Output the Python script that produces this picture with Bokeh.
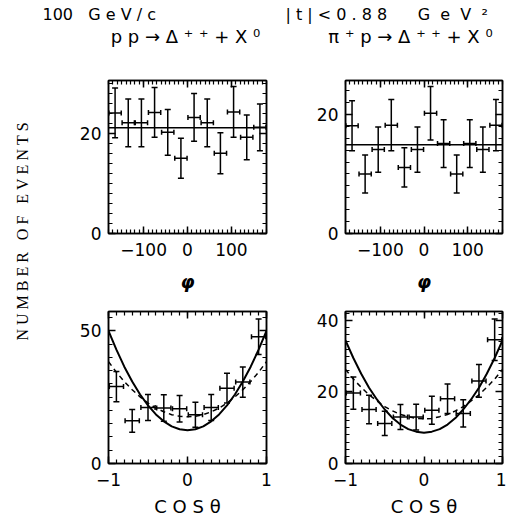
import math
from bokeh.plotting import figure
from bokeh.models import (Range1d, LinearAxis, FixedTicker, Whisker, TeeHead,
                          ColumnDataSource, Span, Label, CustomJSTickFormatter)
from bokeh.layouts import row, column
from bokeh.embed import file_html
from bokeh.resources import INLINE

# ---------------- data ----------------
phi_centers = [-165, -135, -105, -75, -45, -15, 15, 45, 75, 105, 135, 165]
phi_halfwidth = 14
pp_phi_counts = [24.2, 22.2, 22.2, 24.3, 20.3, 15.1, 23.3, 22.2, 16.1, 24.4, 19.3, 21.3]
pp_phi_err = [5.0, 4.8, 4.8, 5.0, 4.6, 4.0, 4.8, 4.8, 4.1, 5.1, 4.5, 4.7]
pp_phi_fit = 21.2
pip_phi_counts = [18.1, 10.0, 14.1, 18.2, 11.1, 14.1, 20.2, 15.1, 10.0, 15.1, 14.1, 18.2]
pip_phi_err = [4.2, 3.2, 3.8, 4.3, 3.3, 3.8, 4.5, 4.0, 3.2, 4.0, 3.8, 4.3]
pip_phi_fit = 14.9

cos_centers = [-0.9, -0.7, -0.5, -0.3, -0.1, 0.1, 0.3, 0.5, 0.7, 0.9]
cos_halfwidth = 0.09
pp_cos_counts = [29.0, 16.1, 21.1, 20.9, 20.6, 18.4, 21.1, 28.4, 30.7, 47.8]
pp_cos_err = [5.7, 4.3, 4.9, 5.0, 5.0, 4.7, 4.9, 5.6, 5.7, 6.7]
pip_cos_counts = [19.7, 15.1, 11.2, 13.0, 13.0, 14.9, 18.1, 14.0, 23.1, 34.6]
pip_cos_err = [4.5, 4.0, 3.4, 3.5, 3.6, 3.9, 4.1, 3.8, 4.6, 5.8]

cos_grid = [-1.0, -0.9, -0.8, -0.7, -0.6, -0.5, -0.4, -0.3, -0.2, -0.1, 0.0,
            0.1, 0.2, 0.3, 0.4, 0.5, 0.6, 0.7, 0.8, 0.9, 1.0]
pp_cos_solid = [50.0, 42.9, 36.5, 30.9, 26.0, 21.9, 18.5, 15.9, 14.0, 12.9, 12.5,
                12.9, 14.0, 15.9, 18.5, 21.9, 26.0, 30.9, 36.5, 42.9, 50.0]
pp_cos_dashed = [38.4, 34.4, 30.9, 27.8, 25.1, 22.8, 20.9, 19.5, 18.4, 17.8, 17.6,
                 17.8, 18.4, 19.5, 20.9, 22.8, 25.1, 27.8, 30.9, 34.4, 38.4]
pip_cos_solid = [34.4, 29.5, 25.1, 21.2, 17.9, 15.1, 12.7, 10.9, 9.6, 8.9, 8.6,
                 8.9, 9.6, 10.9, 12.7, 15.1, 17.9, 21.2, 25.1, 29.5, 34.4]
pip_cos_dashed = [26.3, 23.6, 21.3, 19.2, 17.5, 15.9, 14.7, 13.7, 13.1, 12.6, 12.5,
                  12.6, 13.1, 13.7, 14.7, 15.9, 17.5, 19.2, 21.3, 23.6, 26.3]

phi_ticks = [-100, 0, 100]
phi_minor = list(range(-180, 181, 10))
cos_ticks = [-1, 0, 1]
cos_minor = [-1.0, -0.9, -0.8, -0.7, -0.6, -0.5, -0.4, -0.3, -0.2, -0.1, 0.0,
             0.1, 0.2, 0.3, 0.4, 0.5, 0.6, 0.7, 0.8, 0.9, 1.0]

NB = "\u00a0"  # non-breaking space keeps the wide letter spacing in SVG text
header_left = "100   G e V / c".replace(" ", NB)
header_right = "| t | < 0 . 8 8      G  e  V  ²".replace(" ", NB)
reaction_pp = "p p → Δ ⁺ ⁺ + X ⁰".replace(" ", NB)
reaction_pip = "π ⁺ p → Δ ⁺ ⁺ + X ⁰".replace(" ", NB)
phi_label = "φ"
cos_label = "C O S θ".replace(" ", NB)
y_label = "N U M B E R   O F   E V E N T S".replace(" ", NB)

TICK_FONT = "DejaVu Sans"
BLACK = "black"


def style_axis(ax, ticker, labels=True, overrides=None, standoff=8):
    ax.ticker = ticker
    ax.axis_line_color = BLACK
    ax.axis_line_width = 1.5
    ax.major_tick_line_color = BLACK
    ax.major_tick_line_width = 1.5
    ax.minor_tick_line_color = BLACK
    ax.minor_tick_line_width = 1.2
    ax.major_tick_in = 7
    ax.major_tick_out = 0
    ax.minor_tick_in = 4
    ax.minor_tick_out = 0
    if labels:
        ax.major_label_text_font = TICK_FONT
        ax.major_label_text_font_size = "17px"
        ax.major_label_text_color = BLACK
        ax.major_label_standoff = standoff
        if overrides:
            ax.major_label_overrides = overrides
    else:
        ax.formatter = CustomJSTickFormatter(code="return ''")
        ax.major_label_text_font_size = "0px"
        ax.major_label_standoff = 0


def make_panel(xr, yr, fw, fh, borders, xt, xm, yt, ym, xover, xlabel, xlabel_style, xlabel_standoff):
    bl, br, bt, bb = borders
    p = figure(frame_width=fw, frame_height=fh,
               x_range=Range1d(*xr), y_range=Range1d(*yr),
               min_border_left=bl, min_border_right=br,
               min_border_top=bt, min_border_bottom=bb,
               output_backend="svg", toolbar_location=None)
    p.grid.visible = False
    p.outline_line_color = BLACK
    p.outline_line_width = 1.5
    p.background_fill_color = "white"
    p.border_fill_color = "white"
    style_axis(p.xaxis[0], FixedTicker(ticks=xt, minor_ticks=xm), True, xover, 9)
    p.xaxis[0].axis_label = xlabel
    p.xaxis[0].axis_label_text_font = "DejaVu Sans"
    p.xaxis[0].axis_label_text_font_size = "18px"
    p.xaxis[0].axis_label_text_font_style = xlabel_style
    p.xaxis[0].axis_label_text_color = BLACK
    p.xaxis[0].axis_label_standoff = xlabel_standoff
    style_axis(p.yaxis[0], FixedTicker(ticks=yt, minor_ticks=ym), True, None, 7)
    top = LinearAxis()
    style_axis(top, FixedTicker(ticks=xt, minor_ticks=xm), False)
    p.add_layout(top, "above")
    right = LinearAxis()
    style_axis(right, FixedTicker(ticks=yt, minor_ticks=ym), False)
    p.add_layout(right, "right")
    return p


def add_points(p, xs, ys, errs, hw):
    src = ColumnDataSource(dict(
        x=xs, y=ys,
        lo=[y - e for y, e in zip(ys, errs)],
        hi=[y + e for y, e in zip(ys, errs)],
        l=[x - hw for x in xs],
        r=[x + hw for x in xs],
    ))
    p.add_layout(Whisker(source=src, base="x", lower="lo", upper="hi", dimension="height",
                         line_color=BLACK, line_width=1.5,
                         lower_head=TeeHead(size=6, line_width=1.5, line_color=BLACK),
                         upper_head=TeeHead(size=6, line_width=1.5, line_color=BLACK)))
    p.add_layout(Whisker(source=src, base="y", lower="l", upper="r", dimension="width",
                         line_color=BLACK, line_width=1.5,
                         lower_head=TeeHead(size=5, line_width=1.5, line_color=BLACK),
                         upper_head=TeeHead(size=5, line_width=1.5, line_color=BLACK)))


def label(p, x, y, text, size, font="DejaVu Sans", align="center", style="normal", angle=0):
    p.add_layout(Label(x=x, y=y, x_units="screen", y_units="screen", text=text,
                       text_font=font, text_font_size=size, text_align=align,
                       text_baseline="middle", text_color=BLACK, text_font_style=style,
                       angle=angle))


def strip(w, h):
    s = figure(width=w, height=h, x_range=Range1d(0, 1), y_range=Range1d(0, 1),
               x_axis_type=None, y_axis_type=None, min_border=0,
               output_backend="svg", toolbar_location=None)
    s.outline_line_color = None
    s.grid.visible = False
    return s


phi_over = {-100: "−100"}
cos_over = {-1: "−1"}

# header strip (page y 0..48, x 40..506)
header = strip(466, 48)
label(header, 2, 34, header_left, "16px", align="left")
label(header, 145, 12, reaction_pp, "18px")
label(header, 245, 34, header_right, "16px", align="left")
label(header, 370, 12, reaction_pip, "18px")

# top-left
tl = make_panel((-180, 180), (0, 30.7), 158, 153, (68, 14, 32, 63),
                phi_ticks, phi_minor, [0, 20], list(range(0, 31, 2)), phi_over,
                phi_label, "bold italic", 12)
add_points(tl, phi_centers, pp_phi_counts, pp_phi_err, phi_halfwidth)
tl.add_layout(Span(location=pp_phi_fit, dimension="width", line_color=BLACK, line_width=1.5))

# top-right
tr = make_panel((-180, 180), (0, 25.7), 157, 153, (65, 4, 32, 63),
                phi_ticks, phi_minor, [0, 20], list(range(0, 26, 2)), phi_over,
                phi_label, "bold italic", 12)
add_points(tr, phi_centers, pip_phi_counts, pip_phi_err, phi_halfwidth)
tr.add_layout(Span(location=pip_phi_fit, dimension="width", line_color=BLACK, line_width=1.5))

# bottom-left
bl = make_panel((-1, 1), (0, 57.3), 158, 152, (68, 14, 15, 58),
                cos_ticks, cos_minor, [0, 50], list(range(0, 56, 5)), cos_over,
                cos_label, "normal", 7)
bl.line(cos_grid, pp_cos_solid, line_color=BLACK, line_width=2)
bl.line(cos_grid, pp_cos_dashed, line_color=BLACK, line_width=1.5, line_dash="5 4")
add_points(bl, cos_centers, pp_cos_counts, pp_cos_err, cos_halfwidth)

# bottom-right
br = make_panel((-1, 1), (0, 42.5), 157, 152, (65, 4, 15, 58),
                cos_ticks, cos_minor, [0, 20, 40], list(range(0, 43, 2)), cos_over,
                cos_label, "normal", 7)
br.line(cos_grid, pip_cos_solid, line_color=BLACK, line_width=2)
br.line(cos_grid, pip_cos_dashed, line_color=BLACK, line_width=1.5, line_dash="5 4")
add_points(br, cos_centers, pip_cos_counts, pip_cos_err, cos_halfwidth)

# y-label strip (page x 0..40, full height)
ylab = strip(40, 521)
label(ylab, 22, 290, y_label, "16px", font="Liberation Serif", angle=math.pi / 2)

layout = row(ylab, column(header, row(tl, tr), row(bl, br)))

open("out.html", "w").write(file_html(layout, INLINE))
